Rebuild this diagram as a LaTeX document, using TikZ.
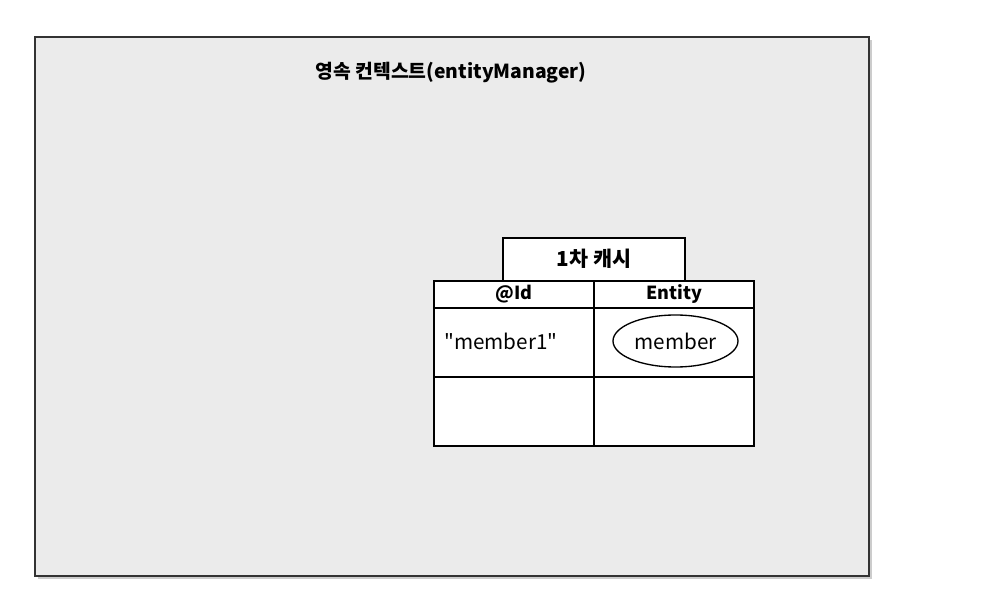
\documentclass[tikz,border=0pt]{standalone}
\usepackage{fontspec}
\setmainfont{Noto Sans CJK KR}
\newfontfamily\plainquote{Noto Sans CJK KR}[Ligatures=TeXOff]
\begin{document}
\begin{tikzpicture}[x=0.75pt,y=-0.75pt,
  cellbox/.style={draw=black,line width=1.2pt,fill=white},
  lbl/.style={inner sep=0pt,anchor=center},
  boldtxt/.style={lbl,font=\fontsize{13.5}{15}\selectfont\bfseries},
  regtxt/.style={lbl,font=\fontsize{15.5}{17}\selectfont}]
\useasboundingbox (0,0) rectangle (992,598);
% outer context
\fill[black!20] (38,40) rectangle (872,579);
\draw[draw=black!80,line width=1.5pt,fill=black!8] (35,37) rectangle (869,576);
\node[boldtxt,font=\fontsize{14.5}{16}\selectfont\bfseries] (title) at (451,73) {영속 컨텍스트(entityManager)};
% tab
\draw[cellbox] (503,238) rectangle (685,281);
\node[boldtxt,font=\fontsize{15.5}{17}\selectfont\bfseries] (tab) at (594,259) {1차 캐시};
% table
\draw[cellbox] (434,281) rectangle (754,446);
\draw[line width=1.2pt] (434,308) -- (754,308);
\draw[line width=1.2pt] (434,377) -- (754,377);
\draw[line width=1.2pt] (594,281) -- (594,446);
\node[boldtxt] (hid) at (514,294) {@Id};
\node[boldtxt] (hent) at (674,294) {Entity};
\node[regtxt,anchor=west,font=\fontsize{15.5}{17}\plainquote] (key) at (444,341) {"member1"};
\draw[line width=1pt] (675.5,341) ellipse [x radius=62.5, y radius=26];
\node[regtxt] (ent) at (675.5,341) {member};
\end{tikzpicture}
\end{document}
